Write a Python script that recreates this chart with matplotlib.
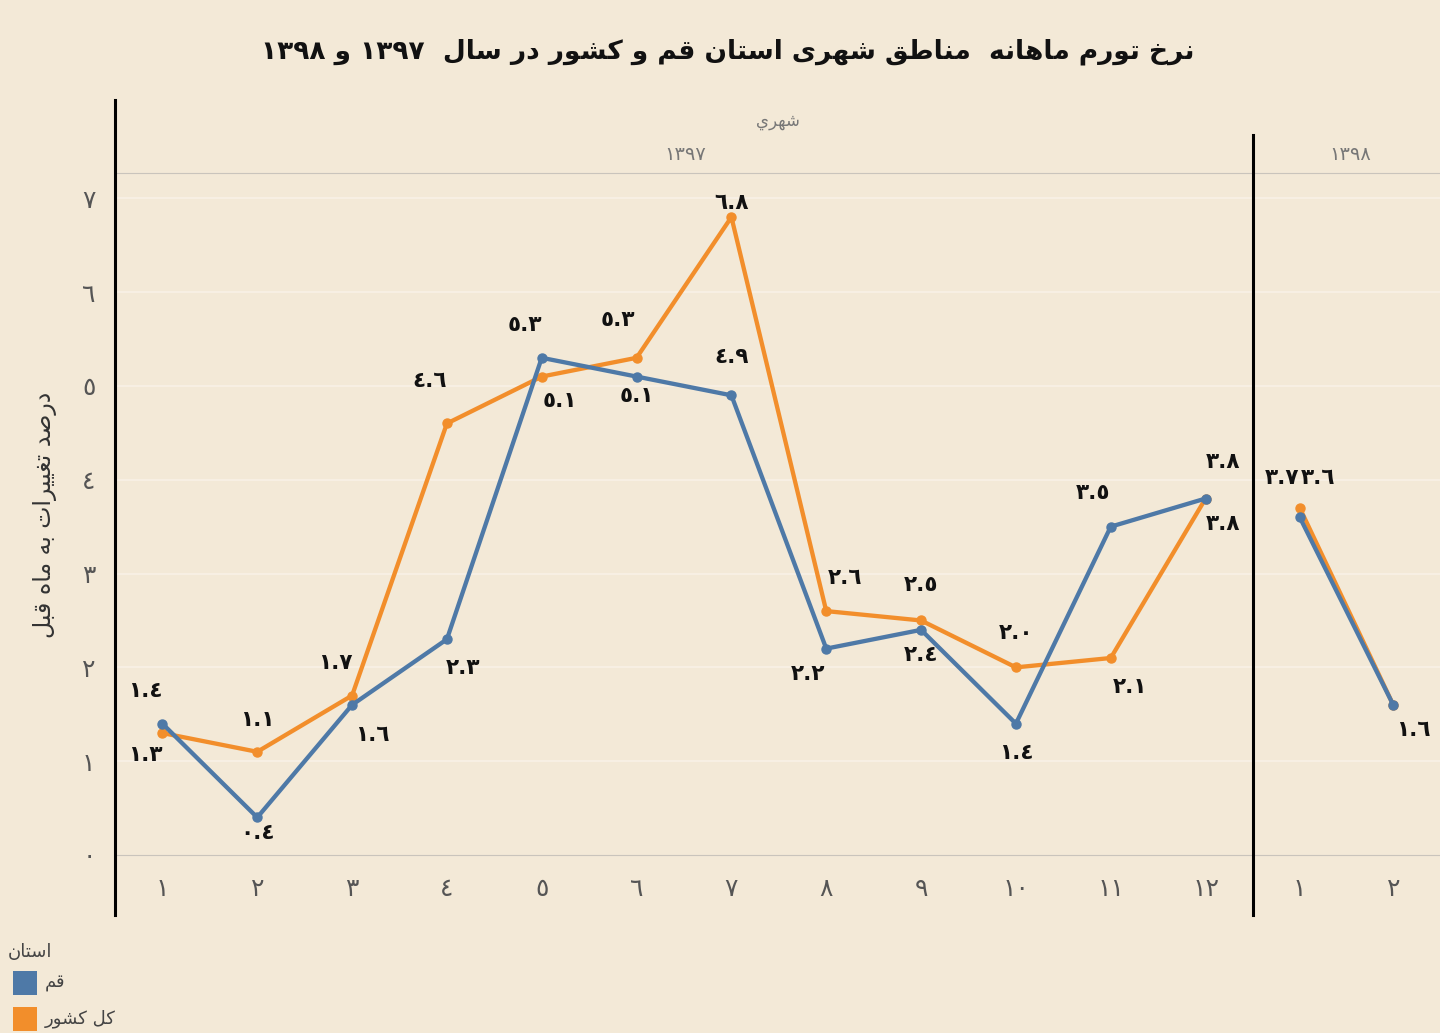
import re
import matplotlib
matplotlib.use('Agg')
import matplotlib.pyplot as plt
from matplotlib.patches import Rectangle
from matplotlib.lines import Line2D

# ---------------- data ----------------
months_1397 = [1, 2, 3, 4, 5, 6, 7, 8, 9, 10, 11, 12]
months_1398 = [1, 2]
qom_1397 = [1.4, 0.4, 1.6, 2.3, 5.3, 5.1, 4.9, 2.2, 2.4, 1.4, 3.5, 3.8]
kol_1397 = [1.3, 1.1, 1.7, 4.6, 5.1, 5.3, 6.8, 2.6, 2.5, 2.0, 2.1, 3.8]
qom_1398 = [3.6, 1.6]
kol_1398 = [3.7, 1.6]
y_ticks = [0, 1, 2, 3, 4, 5, 6, 7]

title_text = "نرخ تورم ماهانه  مناطق شهری استان قم و کشور در سال  ۱۳۹۷ و ۱۳۹۸"
ylabel_text = "درصد تغییرات به ماه قبل"
header_text = "شهري"
year1_text = "١٣٩٧"
year2_text = "١٣٩٨"
legend_title = "استان"
legend_labels = ["قم", "کل کشور"]

# label offsets (pixels) for data labels
qom_off_1397 = [(-17, 33), (0, -16), (20, -30), (16, -29), (-17, 33), (0, -19),
                (0, 38), (-18, -25), (0, -25), (0, -29), (-18, 34), (17, -25)]
kol_off_1397 = [(-17, -22), (0, 32), (-17, 33), (-17, 42), (18, -24), (-19, 38),
                (0, 14), (19, 33), (0, 35), (0, 34), (19, -29), (17, 37)]
qom_off_1398 = [(18, 39), (20, -25)]
kol_off_1398 = [(-18, 30), None]

# ---------------- Arabic shaping ----------------
FORMS = {
    'ا': (0xFE8D, 0xFE8E), 'آ': (0xFE81, 0xFE82), 'أ': (0xFE83, 0xFE84),
    'ب': (0xFE8F, 0xFE90, 0xFE91, 0xFE92), 'پ': (0xFB56, 0xFB57, 0xFB58, 0xFB59),
    'ت': (0xFE95, 0xFE96, 0xFE97, 0xFE98), 'ث': (0xFE99, 0xFE9A, 0xFE9B, 0xFE9C),
    'ج': (0xFE9D, 0xFE9E, 0xFE9F, 0xFEA0), 'چ': (0xFB7A, 0xFB7B, 0xFB7C, 0xFB7D),
    'ح': (0xFEA1, 0xFEA2, 0xFEA3, 0xFEA4), 'خ': (0xFEA5, 0xFEA6, 0xFEA7, 0xFEA8),
    'د': (0xFEA9, 0xFEAA), 'ذ': (0xFEAB, 0xFEAC), 'ر': (0xFEAD, 0xFEAE),
    'ز': (0xFEAF, 0xFEB0), 'ژ': (0xFB8A, 0xFB8B),
    'س': (0xFEB1, 0xFEB2, 0xFEB3, 0xFEB4), 'ش': (0xFEB5, 0xFEB6, 0xFEB7, 0xFEB8),
    'ص': (0xFEB9, 0xFEBA, 0xFEBB, 0xFEBC), 'ض': (0xFEBD, 0xFEBE, 0xFEBF, 0xFEC0),
    'ط': (0xFEC1, 0xFEC2, 0xFEC3, 0xFEC4), 'ظ': (0xFEC5, 0xFEC6, 0xFEC7, 0xFEC8),
    'ع': (0xFEC9, 0xFECA, 0xFECB, 0xFECC), 'غ': (0xFECD, 0xFECE, 0xFECF, 0xFED0),
    'ف': (0xFED1, 0xFED2, 0xFED3, 0xFED4), 'ق': (0xFED5, 0xFED6, 0xFED7, 0xFED8),
    'ک': (0xFB8E, 0xFB8F, 0xFB90, 0xFB91), 'ك': (0xFED9, 0xFEDA, 0xFEDB, 0xFEDC),
    'گ': (0xFB92, 0xFB93, 0xFB94, 0xFB95), 'ل': (0xFEDD, 0xFEDE, 0xFEDF, 0xFEE0),
    'م': (0xFEE1, 0xFEE2, 0xFEE3, 0xFEE4), 'ن': (0xFEE5, 0xFEE6, 0xFEE7, 0xFEE8),
    'ه': (0xFEE9, 0xFEEA, 0xFEEB, 0xFEEC), 'و': (0xFEED, 0xFEEE),
    'ی': (0xFBFC, 0xFBFD, 0xFBFE, 0xFBFF), 'ي': (0xFEF1, 0xFEF2, 0xFEF3, 0xFEF4),
    'ة': (0xFE93, 0xFE94),
}


def shape(text):
    chars = list(text)
    out = []
    for i, c in enumerate(chars):
        if c not in FORMS:
            out.append(c)
            continue
        prev = chars[i - 1] if i > 0 else None
        nxt = chars[i + 1] if i + 1 < len(chars) else None
        f = FORMS[c]
        join_prev = prev is not None and prev in FORMS and len(FORMS[prev]) == 4
        join_next = nxt is not None and nxt in FORMS and len(f) == 4
        if join_prev and join_next:
            g = f[3]
        elif join_prev:
            g = f[1]
        elif join_next:
            g = f[2]
        else:
            g = f[0]
        out.append(chr(g))
    s = ''.join(out)
    tokens = re.findall(r'[0-9\u0660-\u0669\u06F0-\u06F9.]+|.', s)
    return ''.join(reversed(tokens))


AR_DIG = str.maketrans('0123456789', '٠١٢٣٤٥٦٧٨٩')


def ar(v):
    return str(v).translate(AR_DIG)


def fmt(v):
    return ('%.1f' % v).translate(AR_DIG)


# ---------------- figure ----------------
W, H = 1440, 1033
BG = '#F3E9D7'
BLUE = '#4E79A7'
ORANGE = '#F28E2B'
YTOP = 7.27

plt.rcParams['font.family'] = ['DejaVu Sans']
fig = plt.figure(figsize=(W / 100, H / 100), dpi=100, facecolor=BG)


def fx(px):
    return px / W


def fy(py):
    return 1 - py / H


x0, x1, x2 = 115, 1253, 1440
ytop_px, ybot_px = 173, 855
ax1 = fig.add_axes([fx(x0), fy(ybot_px), (x1 - x0) / W, (ybot_px - ytop_px) / H])
ax2 = fig.add_axes([fx(x1), fy(ybot_px), (x2 - x1) / W, (ybot_px - ytop_px) / H])

for ax, months, qv, kv, qoff, koff in [
        (ax1, months_1397, qom_1397, kol_1397, qom_off_1397, kol_off_1397),
        (ax2, months_1398, qom_1398, kol_1398, qom_off_1398, kol_off_1398)]:
    ax.set_facecolor(BG)
    ax.set_xlim(0.5, len(months) + 0.5)
    ax.set_ylim(0, YTOP)
    for t in y_ticks[1:]:
        ax.axhline(t, color='#F8F1E6', lw=1.2, zorder=0)
    ax.plot(months, kv, color=ORANGE, lw=3.1, marker='o', ms=6.5, zorder=3,
            solid_capstyle='round')
    ax.plot(months, qv, color=BLUE, lw=3.1, marker='o', ms=6.5, zorder=4,
            solid_capstyle='round')
    for m, v, off in zip(months, kv, koff):
        if off is None:
            continue
        ax.annotate(fmt(v), (m, v), xytext=off, textcoords='offset pixels',
                    ha='center', va='center', fontsize=15.5, fontweight='bold',
                    color='#111111', zorder=5)
    for m, v, off in zip(months, qv, qoff):
        if off is None:
            continue
        ax.annotate(fmt(v), (m, v), xytext=off, textcoords='offset pixels',
                    ha='center', va='center', fontsize=15.5, fontweight='bold',
                    color='#111111', zorder=5)
    ax.set_xticks(months)
    ax.set_xticklabels([ar(m) for m in months], fontsize=18, color='#555555')
    ax.tick_params(axis='x', length=0, pad=16)
    for s in ax.spines.values():
        s.set_visible(False)
    ax.spines['top'].set_visible(True)
    ax.spines['top'].set_color('#C9C4BC')
    ax.spines['bottom'].set_visible(True)
    ax.spines['bottom'].set_color('#C9C4BC')

ax1.set_yticks(y_ticks)
ax1.set_yticklabels([ar(t) for t in y_ticks], fontsize=18, color='#555555')
ax1.tick_params(axis='y', length=0, pad=14)
ax2.set_yticks([])

# vertical black divider lines
fig.add_artist(Line2D([fx(x0), fx(x0)], [fy(100), fy(915)], color='black', lw=2.2))
fig.add_artist(Line2D([fx(x1), fx(x1)], [fy(135), fy(915)], color='black', lw=2.2))

# header
fig.text(fx(778), fy(121), shape(header_text), ha='center', va='center',
         fontsize=12, color='#777777')
fig.text(fx(685), fy(155), year1_text, ha='center', va='center',
         fontsize=14, color='#777777')
fig.text(fx(1350), fy(155), year2_text, ha='center', va='center',
         fontsize=14, color='#777777')

# title
fig.text(fx(728), fy(52), shape(title_text), ha='center', va='center',
         fontsize=19, fontweight='bold', color='#111111')

# y label
fig.text(fx(45), fy(515), shape(ylabel_text), ha='center', va='center',
         rotation=90, fontsize=17, color='#333333')

# legend
fig.text(fx(8), fy(952), shape(legend_title), ha='left', va='center',
         fontsize=13, color='#444444')
for i, (lab, col) in enumerate(zip(legend_labels, [BLUE, ORANGE])):
    yc = 983 + i * 36
    fig.add_artist(Rectangle((fx(13), fy(yc + 12)), 24 / W, 24 / H,
                             facecolor=col, edgecolor='none'))
    fig.text(fx(45), fy(yc), shape(lab), ha='left', va='center',
             fontsize=13, color='#444444')

fig.savefig('out.png', dpi=100, facecolor=BG)
